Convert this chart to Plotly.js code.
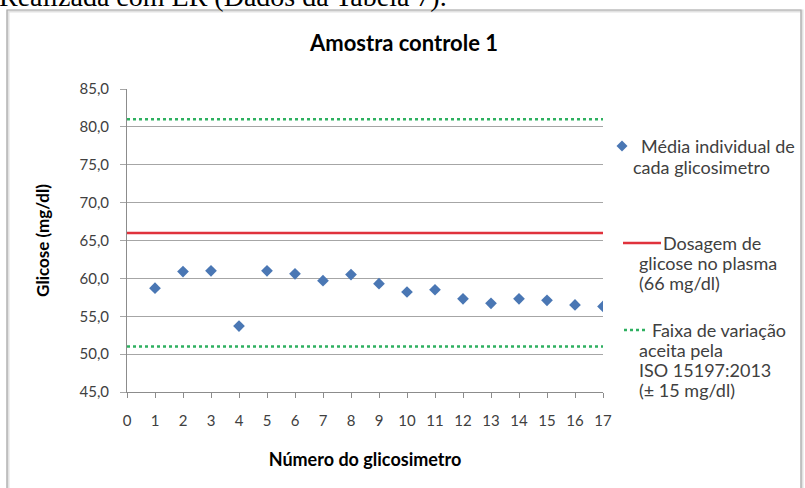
<!DOCTYPE html>
<html>
<head>
<meta charset="utf-8">
<script src="https://cdn.plot.ly/plotly-3.0.1.min.js"></script>
<style>
  html, body { margin: 0; padding: 0; background: #ffffff; }
  #chart { width: 805px; height: 488px; }
</style>
</head>
<body>
<div id="chart"></div>
<script>
// Glucometer numbers and the mean reading of each one (mg/dl)
const glucometers = [1, 2, 3, 4, 5, 6, 7, 8, 9, 10, 11, 12, 13, 14, 15, 16, 17];
const meanReadings = [58.7, 60.9, 61.0, 53.7, 61.0, 60.6, 59.7, 60.5, 59.3, 58.2, 58.5, 57.3, 56.7, 57.3, 57.1, 56.5, 56.3];

// Reference plasma glucose and the ISO 15197:2013 acceptance band (±15 mg/dl)
const plasmaX = [0, 17];
const plasmaGlucose = [66, 66];
const isoUpper = [81, 81];
const isoLower = [51, 51];

const xTicks = [0, 1, 2, 3, 4, 5, 6, 7, 8, 9, 10, 11, 12, 13, 14, 15, 16, 17];

const legendMean = ['Média individual de', 'cada glicosimetro'];
const legendPlasma = ['Dosagem de', 'glicose no plasma', '(66 mg/dl)'];
const legendIso = ['Faixa de variação', 'aceita pela', 'ISO 15197:2013', '(± 15 mg/dl)'];

// Plot area in page pixels
const W = 805, H = 488;
const L = 127, R = 603, T = 89, B = 392;
const PX = x => (x - L) / (R - L);
const PY = y => (B - y) / (B - T);

const FONT = 'Lato, "Open Sans", sans-serif';
const TXT = '#404040';
const BLUE = '#4a77b4';
const RED = '#e0323c';
const GREEN = '#2eb060';

const traces = [
  {
    x: plasmaX, y: isoUpper, type: 'scatter', mode: 'lines',
    line: { color: GREEN, width: 2.6, dash: 'dot' }, hoverinfo: 'skip', showlegend: false
  },
  {
    x: plasmaX, y: isoLower, type: 'scatter', mode: 'lines',
    line: { color: GREEN, width: 2.6, dash: 'dot' }, hoverinfo: 'skip', showlegend: false
  },
  {
    x: plasmaX, y: plasmaGlucose, type: 'scatter', mode: 'lines',
    line: { color: RED, width: 2.6 }, showlegend: false
  },
  {
    x: glucometers, y: meanReadings, type: 'scatter', mode: 'markers',
    marker: { symbol: 'diamond', size: 9, color: BLUE, line: { width: 0 } }, showlegend: false
  }
];

// Legend drawn beside the plot: sample marks plus wrapped text
const annotations = [];
const shapes = [];

function legendText(lines, firstX, restX, y0, step) {
  lines.forEach((t, i) => {
    annotations.push({
      xref: 'paper', yref: 'paper', x: PX(i === 0 ? firstX : restX), y: PY(y0 + i * step),
      xanchor: 'left', yanchor: 'middle', showarrow: false, text: t,
      font: { family: FONT, size: 18, color: TXT }
    });
  });
}

shapes.push({
  type: 'path', xref: 'paper', yref: 'paper', xsizemode: 'pixel', ysizemode: 'pixel',
  xanchor: PX(622), yanchor: PY(146), path: 'M 0 5.5 L 5.5 0 L 0 -5.5 L -5.5 0 Z',
  fillcolor: BLUE, line: { width: 0 }
});
legendText(legendMean, 639, 631, 146, 21);

shapes.push({
  type: 'line', xref: 'paper', yref: 'paper', x0: PX(623), x1: PX(661), y0: PY(243), y1: PY(243),
  line: { color: RED, width: 2.6 }
});
legendText(legendPlasma, 661, 637, 243, 20);

shapes.push({
  type: 'line', xref: 'paper', yref: 'paper', x0: PX(624), x1: PX(648), y0: PY(330), y1: PY(330),
  line: { color: GREEN, width: 2.6, dash: 'dot' }
});
legendText(legendIso, 650, 637, 330, 20);

// Chart frame with a soft shadow along its top and left edges
shapes.push({
  type: 'rect', xref: 'paper', yref: 'paper', layer: 'below',
  x0: PX(8), x1: PX(802), y0: PY(495), y1: PY(11),
  line: { color: '#e2e2e2', width: 3 }, fillcolor: 'rgba(0,0,0,0)'
});
shapes.push({
  type: 'rect', xref: 'paper', yref: 'paper', layer: 'below',
  x0: PX(7), x1: PX(801), y0: PY(494), y1: PY(10),
  line: { color: '#a9a9a9', width: 1.2 }, fillcolor: 'rgba(0,0,0,0)'
});

// Caption of the surrounding document, cut by the top edge
annotations.push({
  xref: 'paper', yref: 'paper', x: PX(-3), y: PY(14), xanchor: 'left', yanchor: 'bottom',
  showarrow: false, text: 'Realizada com ER (Dados da Tabela 7).',
  font: { family: '"Liberation Serif", "Times New Roman", serif', size: 28, color: '#000000' }
});

const layout = {
  width: W, height: H,
  margin: { l: L, r: W - R, t: T, b: H - B, pad: 0 },
  paper_bgcolor: '#ffffff', plot_bgcolor: '#ffffff',
  separators: ',.',
  showlegend: false,
  title: {
    text: 'Amostra controle 1', x: PX(404), xanchor: 'center', xref: 'paper',
    y: 1 - 43 / H, yanchor: 'middle', yref: 'container',
    font: { family: FONT, size: 22, color: '#000000', weight: 'bold' }
  },
  xaxis: {
    range: [0, 17], tickvals: xTicks, ticktext: xTicks.map(String),
    showgrid: false, zeroline: false, showline: true, linecolor: '#8c8c8c', linewidth: 1,
    ticks: 'outside', ticklen: 5, tickcolor: '#8c8c8c',
    tickfont: { family: FONT, size: 15, color: TXT },
    ticklabelstandoff: 10,
    title: { text: 'Número do glicosimetro', standoff: 25, font: { family: FONT, size: 18, color: '#000000', weight: 'bold' } },
    fixedrange: true
  },
  yaxis: {
    range: [45, 85], dtick: 5, tick0: 45, tickformat: '.1f',
    showgrid: true, gridcolor: '#a6a6a6', gridwidth: 1, zeroline: false,
    showline: true, linecolor: '#8c8c8c', linewidth: 1,
    ticks: 'outside', ticklen: 6, tickcolor: '#a6a6a6',
    tickfont: { family: FONT, size: 15, color: TXT },
    ticklabelstandoff: 8,
    title: { text: 'Glicose (mg/dl)', standoff: 25, font: { family: FONT, size: 17, color: '#000000', weight: 'bold' } },
    fixedrange: true
  },
  annotations: annotations,
  shapes: shapes
};

Plotly.newPlot('chart', traces, layout, { staticPlot: true, displayModeBar: false });
</script>
</body>
</html>
